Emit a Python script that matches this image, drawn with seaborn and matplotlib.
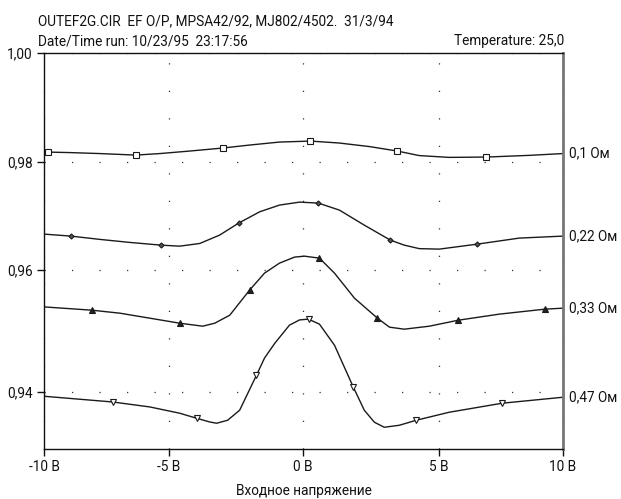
import numpy as np
import pandas as pd
import matplotlib
matplotlib.use('Agg')
import matplotlib.pyplot as plt
import seaborn as sns

# --- data (input voltage, V -> gain) ---
x_01 = [-10, -9.84, -8.96, -7.76, -6.32, -5.36, -4.22, -2.99, -1.98, -0.86, 0.29, 1.35,
        2.45, 3.47, 4.27, 5.40, 6.90, 8.63, 10]
y_01 = [0.98183, 0.98183, 0.98174, 0.98156, 0.98128, 0.98156, 0.98202, 0.98257, 0.98312,
        0.98367, 0.98385, 0.98349, 0.98284, 0.98202, 0.98119, 0.98086, 0.98092, 0.98123,
        0.98156]
mk_01 = [1, 4, 7, 10, 13, 16]

x_022 = [-10, -8.92, -7.76, -6.56, -5.32, -4.59, -3.84, -3.10, -2.39, -1.60, -0.86, -0.11,
         0.58, 1.35, 2.26, 3.21, 3.72, 4.27, 5.0, 6.53, 8.23, 10]
y_022 = [0.96667, 0.9663, 0.96569, 0.96513, 0.96463, 0.96444, 0.96494, 0.96648, 0.9687,
         0.9708, 0.97204, 0.97259, 0.97241, 0.97111, 0.96833, 0.96556, 0.96463, 0.96398,
         0.96389, 0.96481, 0.96593, 0.9663]
mk_022 = [1, 4, 8, 12, 15, 19]

x_033 = [-10, -8.08, -6.96, -5.76, -4.59, -3.73, -3.28, -2.72, -1.98, -1.42, -0.86, -0.30,
         0.07, 0.62, 1.17, 1.90, 2.74, 3.18, 3.72, 4.64, 5.77, 7.42, 9.27, 10]
y_033 = [0.95398, 0.95344, 0.95295, 0.95213, 0.95131, 0.95082, 0.95131, 0.95262, 0.95672,
         0.95951, 0.9613, 0.96241, 0.96259, 0.96222, 0.95951, 0.95541, 0.95213, 0.95066,
         0.95033, 0.95082, 0.9518, 0.95279, 0.95361, 0.95377]
mk_033 = [1, 4, 8, 13, 16, 20, 22]

x_047 = [-10, -7.24, -5.76, -4.59, -3.96, -3.47, -3.21, -2.80, -2.35, -1.72, -1.42, -1.04,
         -0.49, -0.11, 0.22, 0.62, 1.17, 1.86, 2.26, 2.63, 2.99, 3.54, 4.16, 5.40, 7.54, 10]
y_047 = [0.93934, 0.9384, 0.93759, 0.93656, 0.93574, 0.93513, 0.93492, 0.93541, 0.93705,
         0.94279, 0.94560, 0.94800, 0.95098, 0.95185, 0.95197, 0.95115, 0.94770, 0.94082,
         0.93705, 0.93508, 0.93426, 0.93459, 0.93541, 0.93672, 0.9382, 0.93918]
mk_047 = [1, 4, 9, 14, 17, 22, 24]

labels = ['0,1 Ом', '0,22 Ом', '0,33 Ом', '0,47 Ом']
x_ticks = [-10, -5, 0, 5, 10]
x_ticklabels = ['-10 В', '-5 В', '0 В', '5 В', '10 В']
y_ticks = [0.94, 0.96, 0.98, 1.00]
y_ticklabels = ['0,94', '0,96', '0,98', '1,00']

# the scanned plot is not quite linear: piecewise-linear scales through the tick positions
xs_v = np.array([-15, -10, -5, 0, 5, 10, 15])
xs_p = np.array([-81, 44, 169, 303, 440, 564, 689])
ys_v = np.array([0.92, 0.94, 0.96, 0.98, 1.00, 1.02])
ys_p = -np.array([514, 392, 270, 162, 53, -56])

# --- plotting setup ---
sns.set_style('white')
plt.rcParams['font.family'] = ['Roboto', 'DejaVu Sans']
fs = 9.8

fig = plt.figure(figsize=(6.21, 4.99), dpi=100)
ax = fig.add_axes([44 / 621, 1 - 449 / 499, (563 - 44) / 621, (449 - 53) / 499])
ax.set_xscale('function', functions=(lambda v: np.interp(v, xs_v, xs_p),
                                     lambda p: np.interp(p, xs_p, xs_v)))
ax.set_yscale('function', functions=(lambda v: np.interp(v, ys_v, ys_p),
                                     lambda p: np.interp(p, ys_p, ys_v)))

series = [(x_01, y_01, mk_01, 's', 'white'),
          (x_022, y_022, mk_022, 'D', '#555555'),
          (x_033, y_033, mk_033, '^', '#222222'),
          (x_047, y_047, mk_047, 'v', 'white')]

for (xv, yv, mk, marker, face), lab in zip(series, labels):
    df = pd.DataFrame({'x': xv, 'y': yv})
    sns.lineplot(data=df, x='x', y='y', ax=ax, color='#1a1a1a', lw=1.0,
                 estimator=None, sort=False, marker=marker, markevery=mk,
                 markersize=4 if marker != 'D' else 2.6, markerfacecolor=face,
                 markeredgecolor='#1a1a1a', markeredgewidth=0.8)
    ax.annotate(lab, xy=(xv[-1], yv[-1]), xytext=(4.5, 0), textcoords='offset points',
                va='center', ha='left', fontsize=fs, color='#111111', annotation_clip=False)

ax.set_xlim(-10, 10)
ax.set_ylim(0.9307, 1.00)
ax.set_xticks(x_ticks)
ax.set_xticklabels(x_ticklabels)
ax.set_yticks(y_ticks)
ax.set_yticklabels(y_ticklabels)
ax.tick_params(axis='both', direction='out', length=5, width=1, color='#111111',
               labelsize=fs, labelcolor='#111111', pad=3)
ax.tick_params(axis='x', bottom=True, top=False)
ax.tick_params(axis='y', left=True, right=False)

# dotted grid, as in the old PSpice print
ax.grid(True, color='#333333', linewidth=0.9, linestyle=(0, (1, 21)))
ax.set_axisbelow(True)

for side in ['left', 'bottom', 'top']:
    ax.spines[side].set_color('#111111')
    ax.spines[side].set_linewidth(1.0)
ax.spines['right'].set_color('#777777')
ax.spines['right'].set_linewidth(2.0)

ax.set_xlabel('Входное напряжение', fontsize=fs, color='#111111', labelpad=7)
ax.set_ylabel('')

fig.text(38 / 621, 1 - 25 / 499, 'OUTEF2G.CIR  EF O/P, MPSA42/92, MJ802/4502.  31/3/94',
         fontsize=fs, color='#111111', va='baseline', ha='left')
fig.text(38 / 621, 1 - 45 / 499, 'Date/Time run: 10/23/95  23:17:56',
         fontsize=fs, color='#111111', va='baseline', ha='left')
fig.text(564 / 621, 1 - 45 / 499, 'Temperature: 25,0',
         fontsize=fs, color='#111111', va='baseline', ha='right')

fig.savefig('out.png', dpi=100)
